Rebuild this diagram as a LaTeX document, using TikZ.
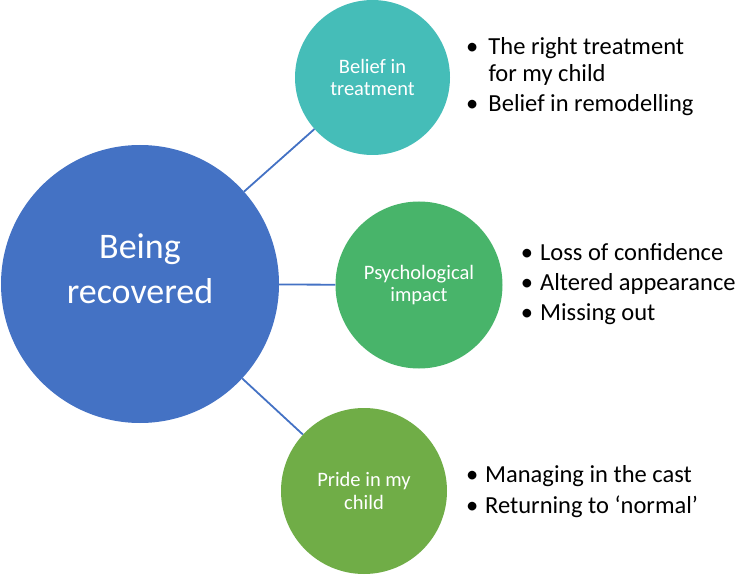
\documentclass[tikz,border=0pt]{standalone}
\usepackage{fontspec}
\setmainfont{Carlito}
\definecolor{cmain}{HTML}{4472C4}
\definecolor{cteal}{HTML}{45BDB8}
\definecolor{cgreen}{HTML}{48B46A}
\definecolor{colive}{HTML}{70AD47}
\newcommand\bulmark[1]{\makebox[#1][l]{•}}
\begin{document}
\begin{tikzpicture}[x=1pt,y=-1pt,
  hub/.style={circle, fill=cmain, minimum size=278pt, inner sep=0pt},
  sub/.style={circle, minimum size=#1, inner sep=0pt, text=white, align=center,
    font=\fontsize{20.5}{22.5}\selectfont},
  hubtext/.style={text=white, align=center, inner sep=0pt, font=\fontsize{36}{45}\selectfont},
  link/.style={draw=cmain, line width=1.8pt},
  bulletlist/.style={anchor=base west, inner sep=0pt, font=\fontsize{24.5}{27}\selectfont}]
\useasboundingbox (0,0) rectangle (737,575);
\node[hub] (hub) at (140,284) {};
\node[hubtext] (hubtxt) at (140,269) {Being\\recovered};
\node[sub=155pt, fill=cteal] (c1) at (372.5,77.5) {Belief in\\treatment};
\node[sub=167pt, fill=cgreen] (c2) at (419,285) {Psychological\\impact};
\node[sub=166pt, fill=colive] (c3) at (364,491) {Pride in my\\child};
\draw[link] (hub) -- (c1);
\draw[link] (hub) -- (c2);
\draw[link] (hub) -- (c3);
\node[bulletlist] (l1) at (466,55) {\begin{tabular}[t]{@{}l@{}}\bulmark{22.3pt}The right treatment\\
  \hspace*{22.3pt}for my child\\[3pt]
  \bulmark{22.3pt}Belief in remodelling\end{tabular}};
\node[bulletlist] (l2) at (520.7,260) {\begin{tabular}[t]{@{}l@{}}\bulmark{19.3pt}Loss of confidence\\[3pt]
  \bulmark{19.3pt}Altered appearance\\[3pt]
  \bulmark{19.3pt}Missing out\end{tabular}};
\node[bulletlist] (l3) at (466,482) {\begin{tabular}[t]{@{}l@{}}\bulmark{19pt}Managing in the cast\\[4pt]
  \bulmark{19pt}Returning to ‘normal’\end{tabular}};
\end{tikzpicture}
\end{document}
